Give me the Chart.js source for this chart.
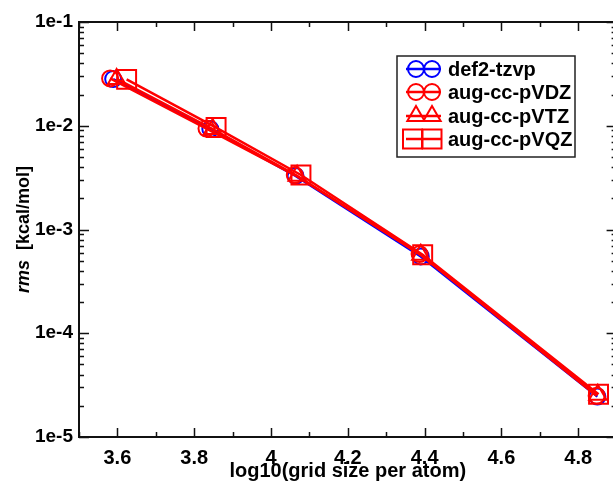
<!DOCTYPE html>
<html>
<head>
<meta charset="utf-8">
<script src="https://cdn.jsdelivr.net/npm/chart.js@4.4.0/dist/chart.umd.min.js"></script>
<style>
html, body { margin: 0; padding: 0; width: 613px; height: 482px; overflow: hidden; background: #fff; }
#wrap { width: 632px; height: 482px; position: relative; }
canvas { display: block; position: absolute; left: 0; top: 0; width: 632px; height: 482px; }
</style>
</head>
<body>
<!-- the canvas is a little wider than the window so the right frame falls just off the edge, as in the original -->
<div id="wrap"><canvas id="myChart" width="632" height="482"></canvas></div>
<script>
// values (x = log10 grid size per atom, y = rms in kcal/mol)
const labels = ['def2-tzvp', 'aug-cc-pVDZ', 'aug-cc-pVTZ', 'aug-cc-pVQZ']
const xDef2 = [3.589, 3.842, 4.064, 4.390, 4.850]
const yDef2 = [0.0282, 0.0093, 0.00328, 0.00055, 2.45e-5]
const xVDZ = [3.581, 3.832, 4.062, 4.387, 4.848]
const yVDZ = [0.0286, 0.0094, 0.00335, 0.00058, 2.50e-5]
const xVTZ = [3.598, 3.848, 4.068, 4.390, 4.851]
const yVTZ = [0.0283, 0.0093, 0.00330, 0.00057, 2.55e-5]
const xVQZ = [3.624, 3.857, 4.078, 4.395, 4.853]
const yVQZ = [0.0280, 0.0096, 0.00335, 0.00057, 2.58e-5]

const xTickValues = [3.5, 3.6, 3.7, 3.8, 3.9, 4.0, 4.1, 4.2, 4.3, 4.4, 4.5, 4.6, 4.7, 4.8, 4.9]

function pairs(xs, ys) {
    return xs.map(function(x, i) { return {x: x, y: ys[i]} })
}

const blue = '#0000ff'
const red = '#ff0000'

function isMajorY(v) {
    const l = Math.log10(v)
    return Math.abs(l - Math.round(l)) < 1e-6
}
function isMajorX(v) {
    return Math.round(v * 10) % 2 === 0
}

// hollow symbol, same shapes as the data points
function drawSymbol(ctx, style, x, y, color) {
    ctx.save()
    ctx.strokeStyle = color
    ctx.lineWidth = 2
    ctx.beginPath()
    if (style === 'circle') {
        ctx.arc(x, y, 8, 0, Math.PI * 2)
    } else if (style === 'triangle') {
        const r = 10
        ctx.moveTo(x, y - r)
        ctx.lineTo(x + r * 0.866, y + r * 0.5)
        ctx.lineTo(x - r * 0.866, y + r * 0.5)
        ctx.closePath()
    } else {
        ctx.rect(x - 9.5, y - 9.5, 19, 19)
    }
    ctx.stroke()
    ctx.restore()
}

const framePlugin = {
    id: 'frame',
    afterDraw: function(chart) {
        const ctx = chart.ctx
        const a = chart.chartArea
        const xs = chart.scales.x
        const ys = chart.scales.y
        ctx.save()
        ctx.strokeStyle = '#111'
        ctx.lineWidth = 2
        ctx.strokeRect(a.left, a.top, a.right - a.left, a.bottom - a.top)
        // ticks pointing inward on all four sides
        ctx.lineWidth = 1.5
        ctx.beginPath()
        xs.ticks.forEach(function(t) {
            const px = Math.round(xs.getPixelForValue(t.value)) + 0.5
            const len = isMajorX(t.value) ? 9 : 5
            ctx.moveTo(px, a.bottom); ctx.lineTo(px, a.bottom - len)
            ctx.moveTo(px, a.top); ctx.lineTo(px, a.top + len)
        })
        ys.ticks.forEach(function(t) {
            const py = Math.round(ys.getPixelForValue(t.value)) + 0.5
            const len = isMajorY(t.value) ? 10 : 5
            ctx.moveTo(a.left, py); ctx.lineTo(a.left + len, py)
            ctx.moveTo(a.right, py); ctx.lineTo(a.right - len, py)
        })
        ctx.stroke()

        // axis titles
        ctx.fillStyle = '#000'
        ctx.font = 'bold 20px "Liberation Sans", Arial, sans-serif'
        ctx.textAlign = 'center'
        ctx.textBaseline = 'alphabetic'
        ctx.fillText('log10(grid size per atom)', (a.left + a.right) / 2, 477)

        ctx.translate(29, (a.top + a.bottom) / 2)
        ctx.rotate(-Math.PI / 2)
        const f1 = 'italic bold 18px "Liberation Sans", Arial, sans-serif'
        const f2 = 'bold 18px "Liberation Sans", Arial, sans-serif'
        const t1 = 'rms'
        const t2 = '  [kcal/mol]'
        ctx.font = f1
        const w1 = ctx.measureText(t1).width
        ctx.font = f2
        const w2 = ctx.measureText(t2).width
        let sx = -(w1 + w2) / 2
        ctx.textAlign = 'left'
        ctx.font = f1
        ctx.fillText(t1, sx, 0)
        ctx.font = f2
        ctx.fillText(t2, sx + w1, 0)
        ctx.restore()

        // legend box in the Grace style: line with two symbols
        ctx.save()
        ctx.fillStyle = '#fff'
        ctx.fillRect(397, 56, 178, 101)
        ctx.strokeStyle = '#222'
        ctx.lineWidth = 1.5
        ctx.strokeRect(397, 56, 178, 101)
        const rows = [69, 92, 116, 139]
        chart.data.datasets.forEach(function(ds, i) {
            const y = rows[i]
            const c = ds.borderColor
            ctx.strokeStyle = c
            ctx.lineWidth = 2.5
            ctx.beginPath()
            ctx.moveTo(406, y); ctx.lineTo(441, y)
            ctx.stroke()
            const left = ds.pointStyle === 'rect' ? 412.5 : 416
            drawSymbol(ctx, ds.pointStyle, left, y, c)
            drawSymbol(ctx, ds.pointStyle, 432, y, c)
            ctx.fillStyle = '#000'
            ctx.font = 'bold 20px "Liberation Sans", Arial, sans-serif'
            ctx.textAlign = 'left'
            ctx.textBaseline = 'middle'
            ctx.fillText(ds.label, 448, y + 1)
        })
        ctx.restore()
    }
}

const ctx = document.getElementById('myChart').getContext('2d')
const myChart = new Chart(ctx, {
    type: 'line',
    data: {
        datasets: [
            { label: labels[0], data: pairs(xDef2, yDef2), borderColor: blue, pointStyle: 'circle', pointRadius: 8, order: 4 },
            { label: labels[1], data: pairs(xVDZ, yVDZ), borderColor: red, pointStyle: 'circle', pointRadius: 8, order: 3 },
            { label: labels[2], data: pairs(xVTZ, yVTZ), borderColor: red, pointStyle: 'triangle', pointRadius: 10, order: 2 },
            { label: labels[3], data: pairs(xVQZ, yVQZ), borderColor: red, pointStyle: 'rect', pointRadius: 13.4, order: 1 }
        ]
    },
    options: {
        responsive: false,
        animation: false,
        devicePixelRatio: 1,
        layout: { padding: { top: 22, right: 0, left: 0, bottom: 0 } },
        elements: {
            line: { tension: 0, borderWidth: 2.5, fill: false },
            point: { backgroundColor: 'transparent', borderWidth: 2 }
        },
        plugins: {
            legend: { display: false },
            tooltip: { enabled: false }
        },
        scales: {
            x: {
                type: 'linear',
                min: 3.5,
                max: 4.9,
                afterBuildTicks: function(scale) {
                    scale.ticks = xTickValues.map(function(v) { return {value: v} })
                },
                afterFit: function(scale) {
                    scale.height = 45
                    scale.paddingLeft = 0
                    scale.paddingRight = 0
                },
                grid: { display: false, drawTicks: false },
                border: { display: false },
                ticks: {
                    autoSkip: false,
                    maxRotation: 0,
                    padding: 9,
                    color: '#000',
                    font: { family: '"Liberation Sans", Arial, sans-serif', size: 20, weight: 'bold' },
                    callback: function(v) {
                        if (!isMajorX(v)) return ''
                        return String(Math.round(v * 10) / 10)
                    }
                }
            },
            y: {
                type: 'logarithmic',
                min: 1e-5,
                max: 1e-1,
                afterBuildTicks: function(scale) {
                    const t = []
                    for (let e = -5; e <= -1; e++) {
                        for (let m = 1; m <= 9; m++) {
                            if (e === -1 && m > 1) break
                            t.push({value: m * Math.pow(10, e)})
                        }
                    }
                    scale.ticks = t
                },
                afterFit: function(scale) {
                    scale.width = 79
                    scale.paddingTop = 0
                    scale.paddingBottom = 0
                },
                grid: { display: false, drawTicks: false },
                border: { display: false },
                ticks: {
                    autoSkip: false,
                    padding: 6,
                    color: '#000',
                    font: { family: '"Liberation Sans", Arial, sans-serif', size: 19, weight: 'bold' },
                    callback: function(v) {
                        if (!isMajorY(v)) return ''
                        return '1e' + Math.round(Math.log10(v))
                    }
                }
            }
        }
    },
    plugins: [framePlugin]
})
</script>
</body>
</html>
